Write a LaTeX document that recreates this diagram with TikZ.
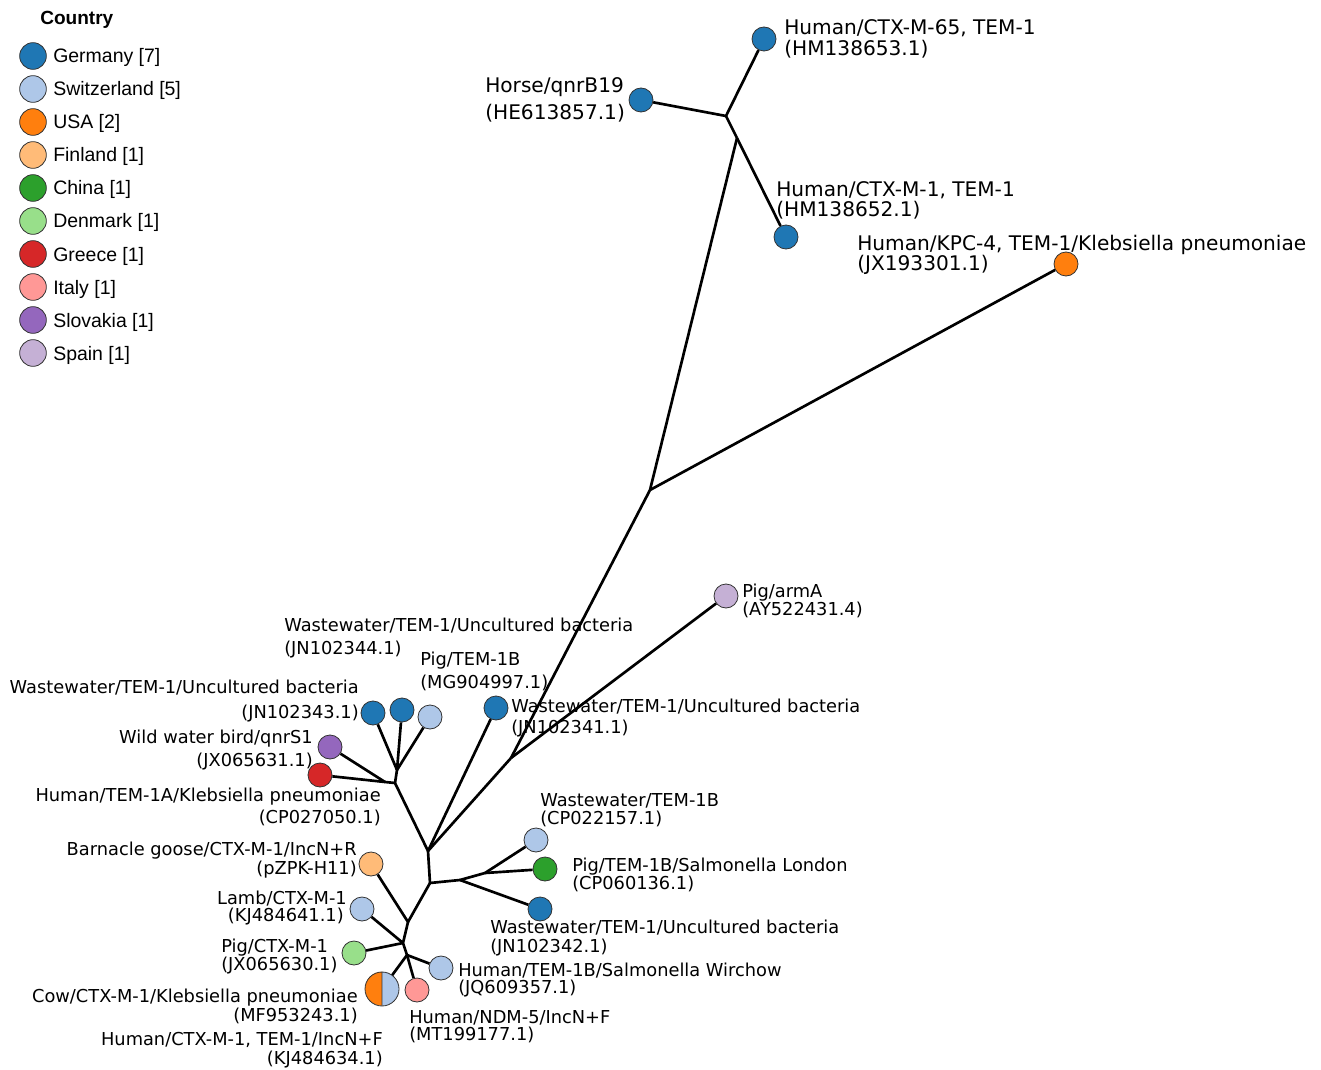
\documentclass[tikz,border=0pt]{standalone}
\usepackage{fontspec}
\setmainfont{DejaVu Sans}
\newfontfamily\keyfont{Liberation Sans}
\usepackage{xcolor}

\definecolor{germany}{RGB}{31,119,180}
\definecolor{switzerland}{RGB}{174,199,232}
\definecolor{usa}{RGB}{255,127,14}
\definecolor{finland}{RGB}{255,187,120}
\definecolor{china}{RGB}{44,160,44}
\definecolor{denmark}{RGB}{152,223,138}
\definecolor{greece}{RGB}{214,39,40}
\definecolor{italy}{RGB}{255,152,150}
\definecolor{slovakia}{RGB}{148,103,189}
\definecolor{spain}{RGB}{197,176,213}

\begin{document}
\begin{tikzpicture}[x=0.75pt,y=0.75pt,yscale=-1,xscale=1,
  branch/.style={draw=black,line width=2pt},
  tip/.style={circle,draw=black!80,line width=0.6pt,minimum size=18pt,inner sep=0pt},
  keydot/.style={circle,draw=black!80,line width=0.6pt,minimum size=20pt,inner sep=0pt},
  keytext/.style={anchor=base west,inner sep=0pt,font=\keyfont\fontsize{14.6}{17}\selectfont},
  biglab/.style={inner sep=0pt,font=\fontsize{15.1}{18}\selectfont},
  smalllab/.style={inner sep=0pt,font=\fontsize{13.35}{15}\selectfont}]
\useasboundingbox (0,0) rectangle (1321,1070);

%Legend
\draw (40,25) node (keytitle) [anchor=base west][inner sep=0pt] [font=\keyfont\bfseries\fontsize{14.3}{17}\selectfont] {Country};
\node [keydot,fill=germany] (key1) at (33,56) {};
\node [keydot,fill=switzerland] (key2) at (33,89) {};
\node [keydot,fill=usa] (key3) at (33,122) {};
\node [keydot,fill=finland] (key4) at (33,155) {};
\node [keydot,fill=china] (key5) at (33,188) {};
\node [keydot,fill=denmark] (key6) at (33,221) {};
\node [keydot,fill=greece] (key7) at (33,254) {};
\node [keydot,fill=italy] (key8) at (33,287) {};
\node [keydot,fill=slovakia] (key9) at (33,320) {};
\node [keydot,fill=spain] (key10) at (33,353) {};
\draw (53,63) node (keytext1) [keytext] {Germany [7]};
\draw (53,96) node (keytext2) [keytext] {Switzerland [5]};
\draw (53,129) node (keytext3) [keytext] {USA [2]};
\draw (53,162) node (keytext4) [keytext] {Finland [1]};
\draw (53,195) node (keytext5) [keytext] {China [1]};
\draw (53,228) node (keytext6) [keytext] {Denmark [1]};
\draw (53,261) node (keytext7) [keytext] {Greece [1]};
\draw (53,294) node (keytext8) [keytext] {Italy [1]};
\draw (53,327) node (keytext9) [keytext] {Slovakia [1]};
\draw (53,360) node (keytext10) [keytext] {Spain [1]};

%Inner nodes of the tree
\coordinate (nA) at (726,116);
\coordinate (nB) at (737,138);
\coordinate (nC) at (650,490);
\coordinate (nE) at (511,758);
\coordinate (nD) at (428,851);
\coordinate (nF) at (395,783);
\coordinate (nP) at (385,782);
\coordinate (nI) at (397,770);
\coordinate (nG) at (430,883);
\coordinate (nJ) at (460,880);
\coordinate (nK) at (485,873);
\coordinate (nL) at (408,922);
\coordinate (nM) at (403,943);
\coordinate (nN) at (407,955);

%Shape: Circle (tips)
\node [tip,fill=germany] (hm653) at (764,39) {};
\node [tip,fill=germany] (horse) at (641,100) {};
\node [tip,fill=germany] (hm652) at (786,237) {};
\node [tip,fill=usa] (kpc) at (1066,264) {};
\node [tip,fill=spain] (arma) at (726,596) {};
\node [tip,fill=germany] (jn341) at (496,708) {};
\node [tip,fill=germany] (jn343) at (373,713) {};
\node [tip,fill=germany] (jn344) at (402,710) {};
\node [tip,fill=switzerland] (mg997) at (430,717) {};
\node [tip,fill=slovakia] (jx631) at (330,747) {};
\node [tip,fill=greece] (cp050) at (320,775) {};
\node [tip,fill=switzerland] (cp157) at (536,840) {};
\node [tip,fill=china] (cp136) at (545,869) {};
\node [tip,fill=germany] (jn342) at (540,909) {};
\node [tip,fill=finland] (pzpk) at (371,864) {};
\node [tip,fill=switzerland] (kj641) at (362,909) {};
\node [tip,fill=denmark] (jx630) at (354,953) {};
\node [tip,fill=italy] (mt177) at (417,990) {};
\node [tip,fill=switzerland] (jq357) at (441,968) {};
\node [circle,minimum size=25.5pt,inner sep=0pt] (cow) at (382,989) {};
\fill [usa] (cow.north) arc [start angle=270,end angle=90,radius=17] -- cycle;
\fill [switzerland] (cow.north) arc [start angle=-90,end angle=90,radius=17] -- cycle;
\draw [draw=black!80,line width=0.6pt] (cow.center) circle [radius=17] (cow.north) -- (cow.south);

%Straight Lines (branches)
\draw [branch] (nA) -- (horse);
\draw [branch] (nA) -- (hm653);
\draw [branch] (nA) -- (nB);
\draw [branch] (nB) -- (hm652);
\draw [branch] (nB) -- (nC);
\draw [branch] (nC) -- (kpc);
\draw [branch] (nC) -- (nE);
\draw [branch] (nE) -- (arma);
\draw [branch] (nE) -- (nD);
\draw [branch] (nD) -- (jn341);
\draw [branch] (nD) -- (nF);
\draw [branch] (nF) -- (nI);
\draw [branch] (nF) -- (nP);
\draw [branch] (nP) -- (cp050);
\draw [branch] (nP) -- (jx631);
\draw [branch] (nI) -- (jn343);
\draw [branch] (nI) -- (jn344);
\draw [branch] (nI) -- (mg997);
\draw [branch] (nD) -- (nG);
\draw [branch] (nG) -- (nJ);
\draw [branch] (nJ) -- (nK);
\draw [branch] (nK) -- (cp157);
\draw [branch] (nK) -- (cp136);
\draw [branch] (nJ) -- (jn342);
\draw [branch] (nG) -- (nL);
\draw [branch] (nL) -- (pzpk);
\draw [branch] (nL) -- (nM);
\draw [branch] (nM) -- (kj641);
\draw [branch] (nM) -- (jx630);
\draw [branch] (nM) -- (nN);
\draw [branch] (nN) -- (jq357);
\draw [branch] (nN) -- (mt177);
\draw [branch] (nN) -- (cow);

% Text Node
\draw (784,35) node (hm653a) [biglab,anchor=base west] {Human/CTX-M-65, TEM-1};
\draw (784,56) node (hm653b) [biglab,anchor=base west] {(HM138653.1)};
% Text Node
\draw (485,93) node (horsea) [biglab,anchor=base west] {Horse/qnrB19};
\draw (485,120) node (horseb) [biglab,anchor=base west] {(HE613857.1)};
% Text Node
\draw (776,197) node (hm652a) [biglab,anchor=base west] {Human/CTX-M-1, TEM-1};
\draw (776,217) node (hm652b) [biglab,anchor=base west] {(HM138652.1)};
% Text Node
\draw (857,250) node (kpca) [biglab,anchor=base west] {Human/KPC-4, TEM-1/Klebsiella pneumoniae};
\draw (857,270) node (kpcb) [biglab,anchor=base west] {(JX193301.1)};
% Text Node
\draw (742,597) node (armaa) [smalllab,anchor=base west] {Pig/armA};
\draw (742,615) node (armab) [smalllab,anchor=base west] {(AY522431.4)};
% Text Node
\draw (284,631) node (jn344a) [smalllab,anchor=base west] {Wastewater/TEM-1/Uncultured bacteria};
\draw (284,654) node (jn344b) [smalllab,anchor=base west] {(JN102344.1)};
% Text Node
\draw (420,665) node (mg997a) [smalllab,anchor=base west] {Pig/TEM-1B};
\draw (420,688) node (mg997b) [smalllab,anchor=base west] {(MG904997.1)};
% Text Node
\draw (511,712) node (jn341a) [smalllab,anchor=base west] {Wastewater/TEM-1/Uncultured bacteria};
\draw (511,733) node (jn341b) [smalllab,anchor=base west] {(JN102341.1)};
% Text Node
\draw (359,693) node (jn343a) [smalllab,anchor=base east] {Wastewater/TEM-1/Uncultured bacteria};
\draw (359,718) node (jn343b) [smalllab,anchor=base east] {(JN102343.1)};
% Text Node
\draw (313,743) node (jx631a) [smalllab,anchor=base east] {Wild water bird/qnrS1};
\draw (313,766) node (jx631b) [smalllab,anchor=base east] {(JX065631.1)};
% Text Node
\draw (381,801) node (cp050a) [smalllab,anchor=base east] {Human/TEM-1A/Klebsiella pneumoniae};
\draw (381,823) node (cp050b) [smalllab,anchor=base east] {(CP027050.1)};
% Text Node
\draw (357,855) node (pzpka) [smalllab,anchor=base east] {Barnacle goose/CTX-M-1/IncN+R};
\draw (357,874) node (pzpkb) [smalllab,anchor=base east] {(pZPK-H11)};
% Text Node
\draw (347,904) node (kj641a) [smalllab,anchor=base east] {Lamb/CTX-M-1};
\draw (344,921) node (kj641b) [smalllab,anchor=base east] {(KJ484641.1)};
% Text Node
\draw (221,952) node (jx630a) [smalllab,anchor=base west] {Pig/CTX-M-1};
\draw (221,970) node (jx630b) [smalllab,anchor=base west] {(JX065630.1)};
% Text Node
\draw (358,1002) node (cowa) [smalllab,anchor=base east] {Cow/CTX-M-1/Klebsiella pneumoniae};
\draw (358,1021) node (cowb) [smalllab,anchor=base east] {(MF953243.1)};
% Text Node
\draw (383,1045) node (kj634a) [smalllab,anchor=base east] {Human/CTX-M-1, TEM-1/IncN+F};
\draw (383,1064) node (kj634b) [smalllab,anchor=base east] {(KJ484634.1)};
% Text Node
\draw (540,806) node (cp157a) [smalllab,anchor=base west] {Wastewater/TEM-1B};
\draw (540,824) node (cp157b) [smalllab,anchor=base west] {(CP022157.1)};
% Text Node
\draw (572,871) node (cp136a) [smalllab,anchor=base west] {Pig/TEM-1B/Salmonella London};
\draw (572,889) node (cp136b) [smalllab,anchor=base west] {(CP060136.1)};
% Text Node
\draw (490,933) node (jn342a) [smalllab,anchor=base west] {Wastewater/TEM-1/Uncultured bacteria};
\draw (490,952) node (jn342b) [smalllab,anchor=base west] {(JN102342.1)};
% Text Node
\draw (458,976) node (jq357a) [smalllab,anchor=base west] {Human/TEM-1B/Salmonella Wirchow};
\draw (458,993) node (jq357b) [smalllab,anchor=base west] {(JQ609357.1)};
% Text Node
\draw (409,1023) node (mt177a) [smalllab,anchor=base west] {Human/NDM-5/IncN+F};
\draw (409,1040) node (mt177b) [smalllab,anchor=base west] {(MT199177.1)};
\end{tikzpicture}
\end{document}
